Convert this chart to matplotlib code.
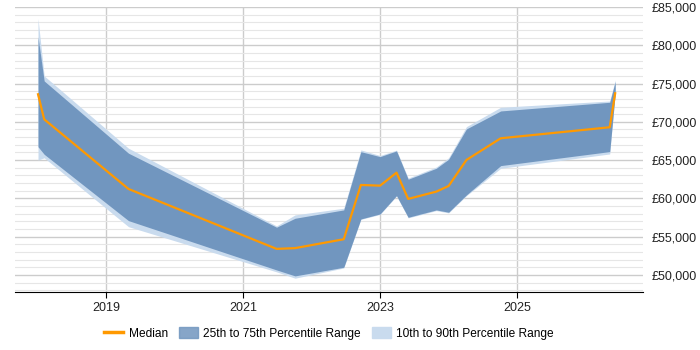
import matplotlib
matplotlib.use("Agg")
import matplotlib.pyplot as plt
from matplotlib.lines import Line2D
from matplotlib.patches import Patch
from matplotlib.ticker import MultipleLocator, FuncFormatter

plt.rcParams['font.family'] = ['Liberation Sans', 'DejaVu Sans']

# decimal years of each sample
years = [2018.01, 2018.10, 2019.33, 2021.49, 2021.76, 2022.47, 2022.72, 2023.00,
         2023.24, 2023.41, 2023.82, 2024.00, 2024.26, 2024.76, 2026.35, 2026.43]
median = [73600, 70330, 61230, 53400, 53500, 54660, 61750, 61660,
          63360, 59930, 60880, 61620, 65020, 67850, 69290, 73730]
p25 = [66750, 65760, 57090, 50650, 49870, 51000, 57310, 57970,
       60360, 57530, 58490, 58190, 60450, 64280, 66110, 73700]
p75 = [81100, 75340, 65900, 56230, 57400, 58490, 66100, 65450,
       66200, 62500, 63930, 65110, 69070, 71420, 72550, 75250]
p10 = [65000, 65300, 56300, 50400, 49570, 50900, 57250, 57900,
       60300, 57450, 58400, 58100, 60350, 63930, 65800, 73650]
p90 = [83500, 76000, 66550, 56400, 57840, 58710, 66330, 65600,
       66300, 62650, 64100, 65300, 69370, 71900, 72720, 75470]

year_ticks = [2019, 2021, 2023, 2025]

fig = plt.figure(figsize=(7, 3.5), dpi=100)
ax = fig.add_axes([0.021, 0.166, 0.898, 0.814])

ax.fill_between(years, p10, p90, color='#c9dbee', lw=0, zorder=2)
ax.fill_between(years, p25, p75, color='#7196bf', lw=0, zorder=3)
ax.plot(years, median, color='#ff9900', lw=1.6, zorder=4)

ax.set_xlim(2017.67, 2026.84)
ax.set_ylim(47780, 85000)

ax.set_xticks(year_ticks)
ax.set_xticklabels([str(y) for y in year_ticks])
ax.yaxis.set_major_locator(MultipleLocator(5000))
ax.yaxis.set_minor_locator(MultipleLocator(1000))
ax.yaxis.set_major_formatter(FuncFormatter(lambda v, p: '£{:,.0f}'.format(v)))
ax.yaxis.tick_right()

ax.grid(axis='y', which='major', color='#cccccc', lw=1, zorder=0)
ax.grid(axis='y', which='minor', color='#e6e6e6', lw=0.8, zorder=0)
ax.grid(axis='x', which='major', color='#cccccc', lw=1, zorder=0)

for s in ['top', 'left', 'right']:
    ax.spines[s].set_visible(False)
ax.spines['bottom'].set_color('black')

ax.tick_params(axis='y', which='both', length=0, pad=6, labelsize=9, colors='#222222')
ax.tick_params(axis='x', length=4, color='black', labelsize=9, colors='#222222')

handles = [Line2D([0], [0], color='#ff9900', lw=2.5),
           Patch(color='#7196bf', alpha=0.85),
           Patch(color='#c9dbee')]
labels = ['Median', '25th to 75th Percentile Range', '10th to 90th Percentile Range']
fig.legend(handles, labels, loc='center', bbox_to_anchor=(0.47, 0.048), ncol=3,
           frameon=False, fontsize=8.6, handlelength=1.6, handleheight=1.1,
           columnspacing=0.9, handletextpad=0.45)

fig.savefig('out.png', dpi=100)
